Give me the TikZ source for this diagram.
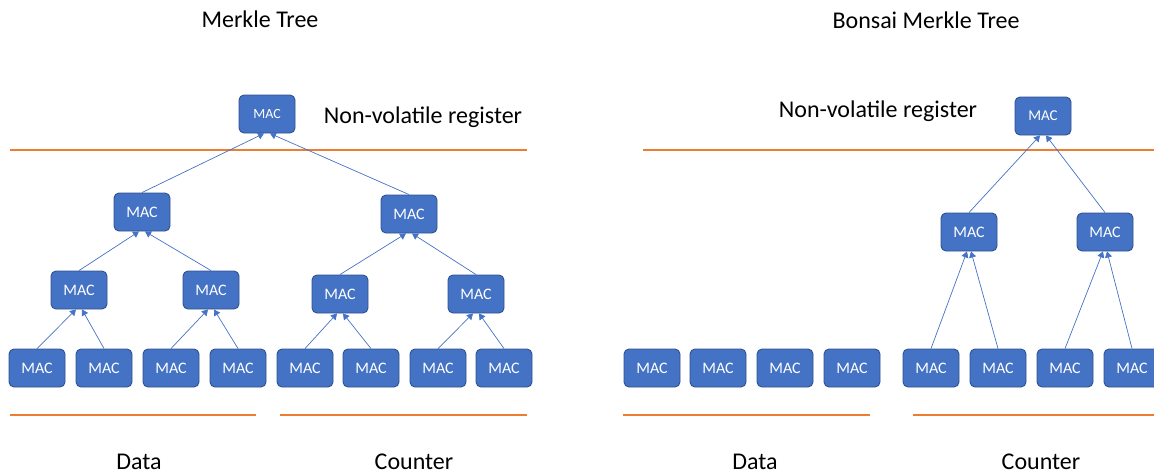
\documentclass[tikz,border=0pt]{standalone}
\usepackage{fontspec}
\setmainfont{Carlito}
\usetikzlibrary{arrows.meta}
\definecolor{boxfill}{HTML}{4472C4}
\definecolor{boxline}{HTML}{2F528F}
\definecolor{orangeline}{HTML}{ED7D31}
\begin{document}
\begin{tikzpicture}[x=1pt,y=-1pt,
  mac/.style={draw=boxline, line width=0.9pt, fill=boxfill, rounded corners=5pt,
    minimum width=56pt, minimum height=38pt, inner sep=0pt, text=white,
    font=\fontsize{16}{16}\selectfont},
  edge/.style={draw=boxfill, line width=0.7pt, -{Triangle[length=6pt,width=7pt]}},
  sep/.style={draw=orangeline, line width=1.8pt},
  lbl/.style={font=\fontsize{24}{24}\selectfont, inner sep=0pt}]
\useasboundingbox (0,0) rectangle (1154,475);
\begin{scope}
\clip (0,0) rectangle (1154,475);
% titles
\node[lbl] (t1) at (260,19) {Merkle Tree};
\node[lbl] (t2) at (926,20) {Bonsai Merkle Tree};
\node[lbl] (nv1) at (423,117) {Non-volatile register};
\node[lbl] (nv2) at (878,111) {Non-volatile register};
\node[lbl] (d1) at (139,462) {Data};
\node[lbl] (c1) at (414,462) {Counter};
\node[lbl] (d2) at (755,462) {Data};
\node[lbl] (c2) at (1041,462) {Counter};
% separator lines
\coordinate (s1a) at (10,150); \coordinate (s1b) at (527,150);
\coordinate (s2a) at (643,150); \coordinate (s2b) at (1160,150);
\coordinate (s3a) at (10,415); \coordinate (s3b) at (256,415);
\coordinate (s4a) at (280,415); \coordinate (s4b) at (527,415);
\coordinate (s5a) at (623,415); \coordinate (s5b) at (870,415);
\coordinate (s6a) at (913,415); \coordinate (s6b) at (1160,415);
\draw[sep] (s1a) -- (s1b);
\draw[sep] (s2a) -- (s2b);
\draw[sep] (s3a) -- (s3b);
\draw[sep] (s4a) -- (s4b);
\draw[sep] (s5a) -- (s5b);
\draw[sep] (s6a) -- (s6b);
% left Merkle tree
\node[mac, font=\fontsize{14}{14}\selectfont] (r) at (267,114) {MAC};
\node[mac] (a1) at (142,212) {MAC};
\node[mac] (a2) at (409,214) {MAC};
\node[mac] (b1) at (79,290) {MAC};
\node[mac] (b2) at (211,290) {MAC};
\node[mac] (b3) at (340,294) {MAC};
\node[mac] (b4) at (476,294) {MAC};
\foreach \i/\x in {1/37,2/104,3/171,4/238,5/305,6/371,7/438,8/504}
  \node[mac] (l\i) at (\x,368) {MAC};
\draw[edge] (a1.north) -- ([xshift=-3pt]r.south);
\draw[edge] (a2.north) -- ([xshift=3pt]r.south);
\draw[edge] (b1.north) -- ([xshift=-3pt]a1.south);
\draw[edge] (b2.north) -- ([xshift=3pt]a1.south);
\draw[edge] (b3.north) -- ([xshift=-3pt]a2.south);
\draw[edge] (b4.north) -- ([xshift=3pt]a2.south);
\draw[edge] (l1.north) -- ([xshift=-3pt]b1.south);
\draw[edge] (l2.north) -- ([xshift=3pt]b1.south);
\draw[edge] (l3.north) -- ([xshift=-3pt]b2.south);
\draw[edge] (l4.north) -- ([xshift=3pt]b2.south);
\draw[edge] (l5.north) -- ([xshift=-3pt]b3.south);
\draw[edge] (l6.north) -- ([xshift=3pt]b3.south);
\draw[edge] (l7.north) -- ([xshift=-3pt]b4.south);
\draw[edge] (l8.north) -- ([xshift=3pt]b4.south);
% Bonsai Merkle tree
\node[mac, font=\fontsize{15}{15}\selectfont] (R) at (1043,116) {MAC};
\node[mac] (A1) at (969,232) {MAC};
\node[mac] (A2) at (1105,232) {MAC};
\foreach \i/\x in {1/652,2/718,3/785,4/852}
  \node[mac] (D\i) at (\x,368) {MAC};
\foreach \i/\x in {1/931,2/998,3/1065,4/1132}
  \node[mac] (C\i) at (\x,368) {MAC};
\draw[edge] (A1.north) -- ([xshift=-3pt]R.south);
\draw[edge] (A2.north) -- ([xshift=3pt]R.south);
\draw[edge] (C1.north) -- ([xshift=-2pt]A1.south);
\draw[edge] (C2.north) -- ([xshift=2pt]A1.south);
\draw[edge] (C3.north) -- ([xshift=-2pt]A2.south);
\draw[edge] (C4.north) -- ([xshift=2pt]A2.south);
\end{scope}
\end{tikzpicture}
\end{document}
